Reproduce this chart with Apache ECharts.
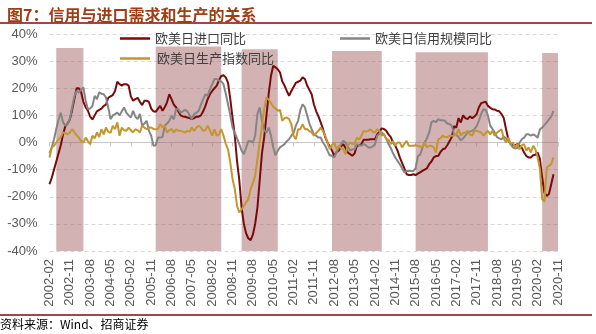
<!DOCTYPE html>
<html>
<head>
<meta charset="utf-8">
<script src="https://cdn.jsdelivr.net/npm/echarts@6/dist/echarts.min.js"></script>
<style>
  html, body { margin: 0; padding: 0; background: #fff; }
  #chart { width: 596px; height: 334px; }
</style>
</head>
<body>
<div id="chart"></div>
<script>
// Monthly axis: 2002-02 .. 2020-11
const startYear = 2002, startMonth = 2, monthCount = 226;
const months = [];
for (let i = 0; i < monthCount; i++) {
  const m = startMonth - 1 + i;
  const y = startYear + Math.floor(m / 12);
  const mm = (m % 12) + 1;
  months.push(y + '-' + (mm < 10 ? '0' + mm : mm));
}

// 欧美日进口同比 (%)
const importYoY = [
  -15.4,-13,-10,-7,-4,-1,3,6,7,8.5,12,16,20,20,18.5,15,13,11.7,9.5,8.5,
  10,11.5,12,12.5,13.5,14,16.5,17,17.5,19,22.4,21.5,21,21.5,21.5,21,17,15.4,16,16.5,
  15,13.8,15.4,15.4,15,12.5,11.5,11.3,12.5,13.5,11.7,13,14.8,17.8,16,14,13,11.5,10,9.6,
  9.5,9.2,9,8.6,9,9.6,9.5,10,11.5,13.5,16,17.8,19,20,21,23,24.5,24.8,24,22,
  16,9,2.5,-7,-14,-24,-30,-33.5,-35.4,-36,-34,-30,-24,-14,-4,2,10,18,24.6,28.3,
  27.7,27,25.8,22.5,21,19,17.2,19,20.5,22,22.4,22.8,24,23.4,21,19.4,17.8,14,11.5,9.6,
  7.4,5,2,0,-1.5,-3,-4.9,-3.5,-3,-1.5,-0.6,-2,-3.7,-4.3,-4.9,-4,-1.2,-1,-0.6,1,
  1,1,1.2,1.2,1.2,3,4,5.2,5,4.3,3,2,0,-1.2,-3,-5.5,-7.5,-9.5,-11.7,-12,
  -12,-11.7,-12,-11.5,-11,-10.5,-10,-9.5,-8,-7,-5.5,-5,-5,-3.5,-2.5,-2.2,-1,0.5,2,6,
  5.5,9,7.4,10,9,8.6,9.6,9,9.5,10.5,13,14.5,14.8,15,13.5,12.8,12.3,12.2,11.7,11.5,
  10.5,9,5,1.2,-0.5,-1,-1,-0.6,-1.2,-2,-3.7,-5,-5.5,-5.5,-4.7,-4.5,-3.7,-6,-13,-18.5,
  -19.7,-19,-15.4,-11.7
];

// 欧美日信用规模同比 (%)
const creditYoY = [
  -3.9,-1.8,1.2,5,8.5,11,7.4,6.2,7,8.6,13,17,19,18.5,19.5,20.3,15.4,12.3,12.5,13.5,
  17.2,16,18.5,18,17.8,16.6,12.9,8.6,10,10.5,11,10,11.5,12.9,11,10,9.2,11.7,9.5,8.6,
  10.5,6.2,7,8,4.3,2.5,-1.2,-1,1.8,1.8,2,6.2,7,8,9.8,8.6,12.3,12.3,11,11.5,
  12,11.5,10,8.6,10.5,11,11.7,14,16,17.8,17.2,19.7,21.5,23.4,23.4,22.8,22.5,21.5,18,14,
  10,5.5,3.5,1.5,-0.6,-3,-4.3,-2,0.6,0.5,0,2.5,10.5,12.9,8,4.5,3.7,5.5,2.5,-1.8,
  -4.7,-3,-1.8,-1.2,-0.6,0.5,1.2,2.5,3.5,6.2,8,12,14.1,13,10,7,4.9,3,2.5,1.8,
  1.8,0,-1.2,-3,-4.7,-5,-5.5,-3.5,-2,-0.6,0.6,0,-1.5,-3,-2.5,-2.5,-0.6,-1,-1.2,-0.6,
  -1,-1.8,-1.8,-1.5,-0.6,2.5,3.2,3.7,3,1.5,-0.6,-2,-4,-5.5,-6.8,-8,-9.5,-11,-10.5,-10.5,
  -10.5,-10.5,-9.5,-5,-4.5,-2,0,1.5,3.7,7.4,8,7.5,8.6,8.2,8.2,8,7,6.8,6.2,3,
  2.8,2,0.8,1.5,2.5,3.7,4,4.3,4.9,6,8,10.5,12.3,12,10,6.2,5,3.7,2,1.5,
  1.2,2.2,1.5,0.6,-0.5,-1.8,-2.2,-2,0,1.2,1.8,3,3,2.5,3,2.5,1.8,4.9,5.5,6.5,
  7.4,8.5,9.5,11.7
];

// 欧美日生产指数同比 (%)
const outputYoY = [
  -5.5,-1.8,-1.2,0,1.2,2,3.7,3.5,3,3.7,4.9,3.8,2.7,1.8,0.5,0,1.8,0.5,-0.6,2.5,
  1.5,3.7,2,4.9,3,5.5,4,3.5,6.2,4.9,7.4,2.5,5.5,4.5,4.3,5.5,4.5,3.7,4.9,4.5,
  3.7,6.2,5.5,4.9,5.5,5.5,5,4.9,5,6.8,5.5,6.2,3.7,4.5,5,3.7,4.9,4.3,4.3,4,
  3.7,4.3,4,5.5,4.3,5.5,6.2,5.5,4.3,4.5,6.2,4.5,2.5,4.9,2.5,3,4.9,2.5,-0.5,-2.5,
  -7.4,-13.5,-17.2,-23.4,-25.8,-24.6,-23.4,-22,-20.9,-17.2,-15,-12.3,-6.2,0,6.2,12.3,16.6,15.8,14.5,13.2,
  12.5,11.7,12,8,9,9.2,8.6,6.8,2.5,1.2,4.9,4.9,6.8,4.9,5,4.2,3.7,2.5,3.5,4.3,
  5.5,4.3,2.5,0,-2.5,-1,0,-2.5,-1.2,-2,-2.5,-4.3,-1.2,0,-0.5,-0.6,1.8,1,2.5,4.3,
  4,4.3,4.9,4,3.7,4.9,4.3,2.5,3,1.2,1,-0.6,0.5,-1.2,0,0,-1.8,-0.5,0.6,-1.2,
  -1.2,-1.2,-1,-1.2,-1.5,-1.8,0,-1.8,-1.2,-1.2,-1.8,-3.7,1.2,1.5,2.5,2,2,2.5,2.5,2.5,
  3,4.9,2.5,3.5,3.7,4.3,3,2.5,4.3,4.3,4,3.7,2.5,3.5,4.3,3,4.3,2.5,3.7,4.3,
  4.9,1.5,0,1.8,-0.6,0,-1.8,-0.6,-2.5,-1,-0.6,-3,-1.8,-3.7,-1.2,-2.5,-5.5,-9.8,-20.9,-21.9,
  -9.2,-8.6,-8,-5.5
];

// Shaded periods: start month, end month, band top (%)
const shadeStart = ['2002-05', '2006-01', '2009-03', '2012-07', '2015-08', '2020-04'];
const shadeEnd   = ['2003-05', '2008-06', '2010-07', '2014-05', '2018-04', '2020-11'];
const shadeTop   = [34.8, 35.4, 34.4, 33.7, 33.3, 33];

// y-axis ticks
const yMin = -40, yMax = 40, yStep = 10;

const seriesNames = ['欧美日进口同比', '欧美日信用规模同比', '欧美日生产指数同比'];
const seriesColors = ['#7A0A0A', '#858585', '#C3962E'];
const seriesValues = [importYoY, creditYoY, outputYoY];

const latin = 'Liberation Sans, Arial, sans-serif';
const cjk = '"Noto Sans CJK SC", sans-serif';
const axisGray = '#595959';

const chart = echarts.init(document.getElementById('chart'), null, { renderer: 'canvas' });

const lineSeries = seriesValues.map((vals, i) => ({
  name: seriesNames[i],
  type: 'line',
  xAxisIndex: 0,
  data: vals,
  showSymbol: false,
  symbol: 'none',
  z: 5,
  lineStyle: { color: seriesColors[i], width: 2 },
  itemStyle: { color: seriesColors[i] },
  animation: false
}));

const bandSeries = {
  name: 'bands',
  type: 'line',
  data: [],
  z: 1,
  silent: true,
  markArea: {
    silent: true,
    itemStyle: { color: 'rgba(158, 88, 88, 0.46)' },
    data: shadeStart.map((s, i) => [
      { xAxis: s, yAxis: yMin },
      { xAxis: shadeEnd[i], yAxis: shadeTop[i] }
    ])
  },
  animation: false
};

const legendBase = {
  orient: 'horizontal',
  icon: 'rect',
  itemWidth: 30,
  itemHeight: 2.5,
  selectedMode: false,
  textStyle: { color: '#404040', fontSize: 13, fontFamily: cjk }
};

chart.setOption({
  animation: false,
  backgroundColor: '#ffffff',
  title: {
    text: '图7：信用与进口需求和生产的关系',
    left: 2,
    top: 2,
    textStyle: { color: '#A03D14', fontSize: 16, fontWeight: 'bold', fontFamily: cjk }
  },
  legend: [
    Object.assign({}, legendBase, { data: [seriesNames[0]], left: 115, top: 27 }),
    Object.assign({}, legendBase, { data: [seriesNames[1]], left: 335, top: 27 }),
    Object.assign({}, legendBase, { data: [seriesNames[2]], left: 115, top: 47,
      textStyle: Object.assign({}, legendBase.textStyle, { padding: [0, 0, 0, 2] }) })
  ],
  grid: { left: 49.5, right: 38, top: 34, bottom: 83, containLabel: false },
  xAxis: [
    {
      type: 'category',
      data: months,
      boundaryGap: false,
      position: 'bottom',
      axisLine: { show: false, onZero: false },
      axisTick: { show: false },
      splitLine: { show: false },
      axisLabel: {
        interval: 8,
        rotate: 90,
        margin: 8,
        color: axisGray,
        fontSize: 13,
        fontFamily: latin
      }
    },
    {
      type: 'category',
      data: months,
      boundaryGap: false,
      position: 'top',
      axisLine: { show: true, onZero: true, lineStyle: { color: '#C8C8C8', width: 1 } },
      axisTick: { show: true, interval: 8, inside: true, length: 4, lineStyle: { color: '#C8C8C8' } },
      axisLabel: { show: false },
      splitLine: { show: false }
    }
  ],
  yAxis: {
    type: 'value',
    min: yMin,
    max: yMax,
    interval: yStep,
    axisLine: { show: false },
    axisTick: { show: false },
    axisLabel: {
      formatter: '{value}%',
      color: axisGray,
      fontSize: 13,
      fontFamily: latin,
      margin: 12
    },
    splitLine: { show: true, lineStyle: { color: '#D9D9D9', type: [4, 3], width: 1 } }
  },
  graphic: [
    { type: 'line', shape: { x1: 0, y1: 23, x2: 592, y2: 23 },
      style: { stroke: '#7B0C0C', lineWidth: 1.5 }, silent: true },
    { type: 'line', shape: { x1: 0, y1: 315, x2: 592, y2: 315 },
      style: { stroke: '#7B0C0C', lineWidth: 1.5 }, silent: true },
    { type: 'text', left: 0, top: 318,
      style: { text: '资料来源：Wind、招商证券', fill: '#000000', fontSize: 12, fontFamily: cjk } }
  ],
  series: [bandSeries].concat(lineSeries)
});
</script>
</body>
</html>
